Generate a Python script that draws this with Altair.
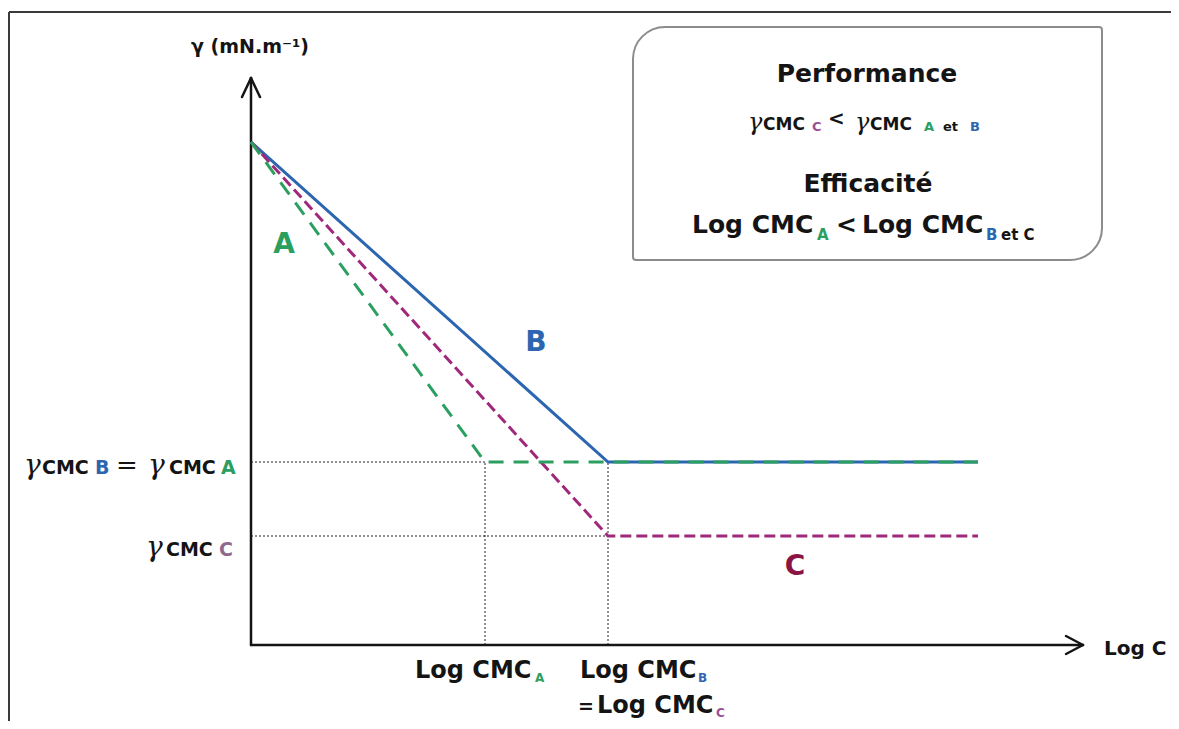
import altair as alt
import pandas as pd

# ---- Schematic data (x: Log C, y: surface tension gamma) ----
LOG_C_ORIGIN = 0.0
LOG_CMC_A = 2.34
LOG_CMC_B = 3.57          # = Log CMC_C
LOG_C_END = 7.27
GAMMA_0 = 50.3
GAMMA_CMC_AB = 18.3
GAMMA_CMC_C = 10.9

curve_A_x = [LOG_C_ORIGIN, LOG_CMC_A, LOG_C_END]
curve_A_y = [GAMMA_0, GAMMA_CMC_AB, GAMMA_CMC_AB]
curve_B_x = [LOG_C_ORIGIN, LOG_CMC_B, LOG_C_END]
curve_B_y = [GAMMA_0, GAMMA_CMC_AB, GAMMA_CMC_AB]
curve_C_x = [LOG_C_ORIGIN, LOG_CMC_B, LOG_C_END]
curve_C_y = [GAMMA_0, GAMMA_CMC_C, GAMMA_CMC_C]

X_AXIS_END = 8.32
Y_AXIS_END = 56.7

# colours
BLUE = "#2c66b0"
GREEN = "#2a9f60"
MAGENTA = "#a0287a"
CRIMSON = "#8b1444"
PURPLE = "#9b4f96"
GREYPURPLE = "#8e6a8e"
INK = "#141414"

SANS = "DejaVu Sans"
SERIF = "DejaVu Serif"

xs = alt.Scale(domain=[-2.43, 9.20], nice=False, zero=False)
ys = alt.Scale(domain=[-7.6, 63.7], nice=False, zero=False)


def X(f="x"):
    return alt.X(f"{f}:Q", scale=xs, axis=None)


def Y(f="y"):
    return alt.Y(f"{f}:Q", scale=ys, axis=None)


def curve(xv, yv, color, dash=None, width=3.0):
    df = pd.DataFrame({"x": xv, "y": yv, "o": list(range(len(xv)))})
    kw = dict(color=color, strokeWidth=width, strokeCap="butt", strokeJoin="miter")
    if dash:
        kw["strokeDash"] = dash
    return alt.Chart(df).mark_line(**kw).encode(x=X(), y=Y(), order="o:Q")


def rules(rows, **kw):
    df = pd.DataFrame(rows, columns=["x", "y", "x2", "y2"])
    return alt.Chart(df).mark_rule(**kw).encode(
        x=X(), y=Y(), x2="x2:Q", y2="y2:Q")


def txt(rows, **kw):
    df = pd.DataFrame(rows, columns=["t", "x", "y"])
    base = dict(align="left", baseline="alphabetic", font=SANS, fontWeight="bold")
    base.update(kw)
    return alt.Chart(df).mark_text(**base).encode(x=X(), y=Y(), text="t:N")


layers = []

# frame (top and left edges)
layers.append(rules([[-2.42, 63.3, 9.20, 63.3], [-2.42, 63.3, -2.42, -7.6]],
                    color="#3a3a3a", strokeWidth=2))

# legend box
box = pd.DataFrame({"x": [3.82], "x2": [8.51], "y": [61.8], "y2": [38.5]})
layers.append(alt.Chart(box).mark_rect(
    fill="white", stroke="#8c8c8c", strokeWidth=2,
    cornerRadiusTopLeft=32, cornerRadiusBottomRight=32,
    cornerRadiusTopRight=3, cornerRadiusBottomLeft=3,
).encode(x=X(), x2="x2:Q", y=Y(), y2="y2:Q"))

# dotted reference lines
layers.append(rules([
    [LOG_C_ORIGIN, GAMMA_CMC_AB, LOG_CMC_A, GAMMA_CMC_AB],
    [LOG_C_ORIGIN, GAMMA_CMC_C, LOG_CMC_B, GAMMA_CMC_C],
    [LOG_CMC_A, 0, LOG_CMC_A, GAMMA_CMC_AB],
    [LOG_CMC_B, 0, LOG_CMC_B, GAMMA_CMC_AB],
], color="#222222", strokeWidth=1, strokeDash=[2, 2]))

# axes with arrows
layers.append(rules([
    [0, 0, 0, Y_AXIS_END],
    [0, 0, X_AXIS_END, 0],
    [-0.09, Y_AXIS_END - 1.9, 0, Y_AXIS_END],
    [0.09, Y_AXIS_END - 1.9, 0, Y_AXIS_END],
    [X_AXIS_END - 0.17, 0.9, X_AXIS_END, 0],
    [X_AXIS_END - 0.17, -0.9, X_AXIS_END, 0],
], color=INK, strokeWidth=2.5, strokeCap="round"))

# curves
layers.append(curve(curve_B_x, curve_B_y, BLUE, width=3))
layers.append(curve(curve_C_x, curve_C_y, MAGENTA, dash=[11, 5], width=3))
layers.append(curve(curve_A_x, curve_A_y, GREEN, dash=[15, 10], width=3))

# curve labels
layers.append(txt([["A", 0.33, 40.0]], color=GREEN, fontSize=28,
                  align="center", baseline="middle"))
layers.append(txt([["B", 2.85, 30.2]], color=BLUE, fontSize=28,
                  align="center", baseline="middle"))
layers.append(txt([["C", 5.44, 7.8]], color=CRIMSON, fontSize=28,
                  align="center", baseline="middle"))

# axis titles
layers.append(txt([["γ (mN.m⁻¹)", -0.01, 59.2]], color=INK, fontSize=19, align="center"))
layers.append(txt([["Log C", 8.53, -1.0]], color=INK, fontSize=20))

# legend texts
layers.append(txt([["Performance", 6.16, 56.3], ["Efficacité", 6.17, 45.3]],
                  color=INK, fontSize=25, align="center"))
layers.append(txt([["γ", 4.97, 51.5], ["γ", 6.04, 51.5]], color=INK,
                  fontSize=24, font=SERIF, fontStyle="italic", fontWeight="normal"))
layers.append(txt([["CMC", 5.12, 51.5], ["CMC", 6.19, 51.5]], color=INK, fontSize=17))
layers.append(txt([["C", 5.61, 51.4]], color=PURPLE, fontSize=13))
layers.append(txt([["<", 5.77, 52.0]], color=INK, fontSize=20))
layers.append(txt([["A", 6.73, 51.4]], color=GREEN, fontSize=13))
layers.append(txt([["et", 6.92, 51.4]], color=INK, fontSize=13))
layers.append(txt([["B", 7.19, 51.4]], color=BLUE, fontSize=13))

layers.append(txt([["Log CMC", 4.41, 41.2], ["<", 5.85, 41.2], ["Log CMC", 6.11, 41.2]],
                  color=INK, fontSize=25))
layers.append(txt([["A", 5.66, 40.5]], color=GREEN, fontSize=15))
layers.append(txt([["B", 7.35, 40.5]], color=BLUE, fontSize=15))
layers.append(txt([["et C", 7.50, 40.5]], color=INK, fontSize=15))

# y-level labels
layers.append(txt([["γ", -2.27, 17.1], ["γ", -1.03, 17.1], ["γ", -1.05, 8.9]],
                  color=INK, fontSize=28, font=SERIF, fontStyle="italic", fontWeight="normal"))
layers.append(txt([["CMC", -2.09, 17.1], ["CMC", -0.82, 17.1], ["CMC", -0.85, 8.9]],
                  color=INK, fontSize=19))
layers.append(txt([["=", -1.35, 17.1]], color=INK, fontSize=26, font=SERIF, fontWeight="normal"))
layers.append(txt([["B", -1.56, 17.1]], color=BLUE, fontSize=19))
layers.append(txt([["A", -0.30, 17.1]], color=GREEN, fontSize=19))
layers.append(txt([["C", -0.32, 8.9]], color=GREYPURPLE, fontSize=19))

# x-level labels
layers.append(txt([["Log CMC", 1.64, -3.3], ["Log CMC", 3.29, -3.3], ["Log CMC", 3.46, -6.8]],
                  color=INK, fontSize=24))
layers.append(txt([["=", 3.27, -6.8]], color=INK, fontSize=19))
layers.append(txt([["A", 2.84, -3.7]], color=GREEN, fontSize=12))
layers.append(txt([["B", 4.47, -3.7]], color=BLUE, fontSize=12))
layers.append(txt([["C", 4.65, -7.2]], color=PURPLE, fontSize=12))

chart = alt.layer(*layers).properties(
    width=1163, height=713,
    autosize=alt.AutoSizeParams(type="none"),
    padding=0,
    background="white",
).configure_view(stroke=None)

chart.save("out.html", embed_options={"renderer": "svg", "actions": False})
